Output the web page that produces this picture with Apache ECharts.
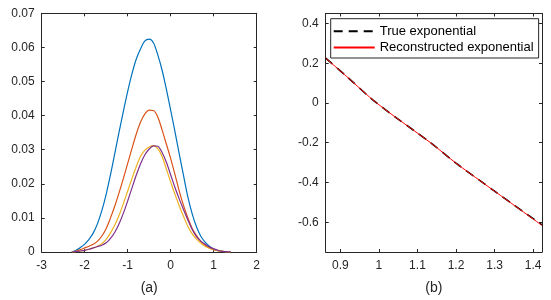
<!DOCTYPE html>
<html><head><meta charset="utf-8">
<script src="https://cdn.jsdelivr.net/npm/echarts@6/dist/echarts.min.js"></script>
<style>html,body{margin:0;padding:0;background:#fff}#c{width:551px;height:300px}</style>
</head><body><div id="c"></div>
<script>
// Panel (a): shared x samples
const xA_vals = [-2.3, -2.2, -2.1, -2.0, -1.9, -1.8, -1.7, -1.6, -1.5, -1.4, -1.3, -1.2, -1.1, -1.0, -0.9, -0.8, -0.7, -0.6, -0.5, -0.4, -0.3, -0.2, -0.1, 0.0, 0.1, 0.2, 0.3, 0.4, 0.5, 0.6, 0.7, 0.8, 0.9, 1.0, 1.1, 1.2, 1.3, 1.4];
const blueY   = [0, 0.0005, 0.0013, 0.0023, 0.0037, 0.0056, 0.0084, 0.0122, 0.0170, 0.0227, 0.0289, 0.0352, 0.0413, 0.0471, 0.0523, 0.0566, 0.0596, 0.0619, 0.0624, 0.0613, 0.0578, 0.0533, 0.0477, 0.0415, 0.0352, 0.0287, 0.0223, 0.0161, 0.0112, 0.0074, 0.0046, 0.0029, 0.0017, 0.0009, 0.0004, 0.0002, 0.00005, 0];
const orangeY = [0, 0.0003, 0.0007, 0.0012, 0.0017, 0.0023, 0.0032, 0.0047, 0.0069, 0.0100, 0.0135, 0.0174, 0.0216, 0.0260, 0.0304, 0.0346, 0.0381, 0.0405, 0.0416, 0.0415, 0.0396, 0.0358, 0.0316, 0.0274, 0.0227, 0.0178, 0.0136, 0.0100, 0.0069, 0.0048, 0.0031, 0.0020, 0.0012, 0.0007, 0.0004, 0.0002, 0.00005, 0];
const yellowY = [0, 0.0001, 0.0003, 0.0005, 0.0008, 0.0012, 0.0017, 0.0025, 0.0037, 0.0056, 0.0079, 0.0108, 0.0142, 0.0179, 0.0216, 0.0251, 0.0281, 0.0299, 0.0308, 0.0312, 0.0303, 0.0280, 0.0243, 0.0205, 0.0169, 0.0135, 0.0104, 0.0075, 0.0053, 0.0038, 0.0026, 0.0017, 0.0011, 0.0007, 0.0004, 0.0002, 0.00005, 0];
const purpleY = [0, 0.0001, 0.0003, 0.0005, 0.0008, 0.0012, 0.0016, 0.0020, 0.0027, 0.0040, 0.0058, 0.0083, 0.0114, 0.0150, 0.0188, 0.0226, 0.0259, 0.0285, 0.0302, 0.0311, 0.0310, 0.0292, 0.0263, 0.0226, 0.0189, 0.0155, 0.0124, 0.0094, 0.0066, 0.0045, 0.0032, 0.0023, 0.0015, 0.0009, 0.0005, 0.0002, 0.0001, 0];
// Panel (b)
const expX = [0.862, 0.917, 0.994, 1.137, 1.2, 1.3, 1.423];
const trueY = [0.225, 0.132, 0, -0.205, -0.303, -0.444, -0.614];
const recY = [0.225, 0.132, 0, -0.205, -0.303, -0.444, -0.616];
const xTicksB = [0.9, 1, 1.1, 1.2, 1.3, 1.4];
const yTicksB = [-0.6, -0.4, -0.2, 0, 0.2, 0.4];
const seriesNamesB = ['True exponential', 'Reconstructed exponential'];

const pairs = (xs, ys) => xs.map((x, i) => [x, ys[i]]);
const ink = '#262626';
const axLine = {show: true, onZero: false, lineStyle: {color: ink, width: 1}};
const tick = {show: true, inside: true, length: 3, lineStyle: {color: ink}};
const lab = {color: ink, fontFamily: 'Liberation Sans, Arial', fontSize: 12};

function xA(grid, pos, extra) {
  return Object.assign({gridIndex: grid, type: 'value', position: pos, axisLine: axLine,
    axisTick: tick, splitLine: {show: false},
    axisLabel: Object.assign({show: pos === 'bottom', margin: 8}, lab)}, extra);
}
function yA(grid, pos, extra) {
  return Object.assign({gridIndex: grid, type: 'value', position: pos, axisLine: axLine,
    axisTick: tick, splitLine: {show: false},
    axisLabel: Object.assign({show: pos === 'left', margin: 7}, lab)}, extra);
}
const nameStyle = {color: ink, fontFamily: 'Liberation Sans, Arial', fontSize: 14};

const lineA = (ys, color) => ({type: 'line', xAxisIndex: 0, yAxisIndex: 0, data: pairs(xA_vals, ys),
  smooth: 0.3, showSymbol: false, symbol: 'none', lineStyle: {color: color, width: 1.2}, itemStyle: {color: color}});

const chart = echarts.init(document.getElementById('c'), null, {renderer: 'canvas'});
chart.setOption({
  animation: false,
  backgroundColor: '#fff',
  grid: [
    {left: 41.7, top: 13.3, width: 215, height: 241.7},
    {left: 325.7, top: 13.5, width: 216.3, height: 241.5}
  ],
  xAxis: [
    xA(0, 'bottom', {min: -3, max: 2, interval: 1, name: '(a)', nameLocation: 'middle', nameGap: 29, nameTextStyle: nameStyle}),
    xA(0, 'top', {min: -3, max: 2, interval: 1}),
    xA(1, 'bottom', {min: 0.862, max: 1.423, name: '(b)', nameLocation: 'middle', nameGap: 29, nameTextStyle: nameStyle,
      axisTick: Object.assign({customValues: xTicksB}, tick),
      axisLabel: Object.assign({show: true, margin: 8, customValues: xTicksB}, lab)}),
    xA(1, 'top', {min: 0.862, max: 1.423, axisTick: Object.assign({customValues: xTicksB}, tick)})
  ],
  yAxis: [
    yA(0, 'left', {min: 0, max: 0.07, interval: 0.01}),
    yA(0, 'right', {min: 0, max: 0.07, interval: 0.01}),
    yA(1, 'left', {min: -0.75, max: 0.45,
      axisTick: Object.assign({customValues: yTicksB}, tick),
      axisLabel: Object.assign({show: true, margin: 7, customValues: yTicksB}, lab)}),
    yA(1, 'right', {min: -0.75, max: 0.45, axisTick: Object.assign({customValues: yTicksB}, tick)})
  ],
  legend: {
    data: seriesNamesB,
    orient: 'vertical', left: 330.7, top: 18.7,
    borderColor: ink, borderWidth: 1, borderRadius: 0, backgroundColor: '#fff',
    padding: [6, 5, 4, 2], itemWidth: 41, itemHeight: 13, itemGap: 3.3,
    itemStyle: {opacity: 0},
    textStyle: {color: '#000', fontFamily: 'Liberation Sans, Arial', fontSize: 13},
    selectedMode: false
  },
  series: [
    lineA(blueY, '#0072BD'),
    lineA(orangeY, '#D95319'),
    lineA(yellowY, '#EDB120'),
    lineA(purpleY, '#7E2F8E'),
    {name: seriesNamesB[0], type: 'line', xAxisIndex: 2, yAxisIndex: 2, data: pairs(expX, trueY), smooth: 0.3, symbol: 'none', lineStyle: {color: '#000', width: 1.6, type: [9, 6]}, itemStyle: {color: '#000'}},
    {name: seriesNamesB[1], type: 'line', xAxisIndex: 2, yAxisIndex: 2, data: pairs(expX, recY), smooth: 0.3, symbol: 'none', lineStyle: {color: '#FF0000', width: 1}, itemStyle: {color: '#FF0000'}}
  ]
});
</script></body></html>
